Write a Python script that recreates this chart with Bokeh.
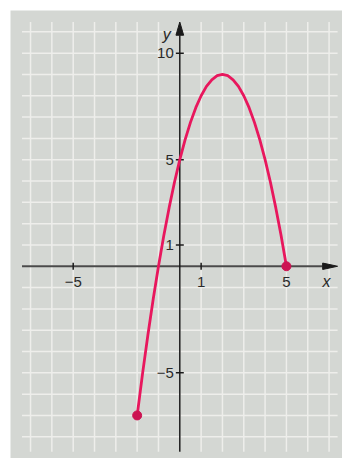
import math
from bokeh.plotting import figure
from bokeh.models import Range1d
from bokeh.core.properties import value
from bokeh.embed import file_html
from bokeh.resources import INLINE

# ---- data ----
curve_x = [-2, -1.75, -1.5, -1.25, -1, -0.75, -0.5, -0.25, 0, 0.25, 0.5, 0.75, 1,
           1.25, 1.5, 1.75, 2, 2.25, 2.5, 2.75, 3, 3.25, 3.5, 3.75, 4, 4.25, 4.5, 4.75, 5]
curve_y = [-7, -5.06, -3.25, -1.56, 0, 1.44, 2.75, 3.94, 5, 5.94, 6.75, 7.44, 8,
           8.44, 8.75, 8.94, 9, 8.94, 8.75, 8.44, 8, 7.44, 6.75, 5.94, 5, 3.94, 2.75, 1.44, 0]
end_x = [-2, 5]
end_y = [-7, 0]
xtick_vals = [-5, 1, 5]
xtick_labels = ["\u22125", "1", "5"]
ytick_vals = [10, 5, 1, -5]
ytick_labels = ["10", "5", "1", "\u22125"]
grid_x = list(range(-7, 8))
grid_y = list(range(-8, 12))

FONT = "Liberation Sans"
BG = "#d4d7d3"
GRID = "#eeeeeb"
CURVE = "#e8175d"
DOT = "#cc1452"
TXT = "#2a2a2a"

# extents of grid / axes (layout)
gx_min, gx_max = -7.4, 7.4
gy_min, gy_max = -8.7, 11.46

p = figure(width=342, height=458, output_backend="svg", toolbar_location=None,
           x_range=Range1d(-7.94, 7.63), y_range=Range1d(-9.02, 12.0),
           x_axis_type=None, y_axis_type=None,
           min_border_left=10, min_border_top=10, min_border_right=0, min_border_bottom=0,
           background_fill_color=BG, border_fill_color="white")
p.outline_line_color = None
p.xgrid.visible = False
p.ygrid.visible = False

# grid
p.segment(x0=grid_x, y0=[gy_min] * len(grid_x), x1=grid_x, y1=[gy_max] * len(grid_x),
          line_color=GRID, line_width=1.5)
p.segment(x0=[gx_min] * len(grid_y), y0=grid_y, x1=[gx_max] * len(grid_y), y1=grid_y,
          line_color=GRID, line_width=1.5)

# axes
head_len_x, head_hw_x = 0.7, 0.15
head_len_y, head_hw_y = 0.62, 0.18
p.segment(x0=[gx_min], y0=[0], x1=[gx_max - head_len_x], y1=[0], line_color="#4a4a4a", line_width=2)
p.patch(x=[gx_max - head_len_x, gx_max, gx_max - head_len_x], y=[head_hw_x, 0, -head_hw_x],
        fill_color="#1a1a1a", line_color="#1a1a1a")
p.segment(x0=[0], y0=[gy_min], x1=[0], y1=[gy_max - head_len_y], line_color="#1a1a1a", line_width=1.5)
p.patch(x=[-head_hw_y, 0, head_hw_y], y=[gy_max - head_len_y, gy_max, gy_max - head_len_y],
        fill_color="#1a1a1a", line_color="#1a1a1a")

# ticks
p.scatter(x=xtick_vals, y=[0] * len(xtick_vals), marker="dash", size=7, angle=math.pi / 2,
          line_color="#1a1a1a", line_width=1.5)
p.scatter(x=[0] * len(ytick_vals), y=ytick_vals, marker="dash", size=8,
          line_color="#1a1a1a", line_width=1.5)

# tick labels
p.text(x=xtick_vals, y=[0] * len(xtick_vals), text=xtick_labels, y_offset=16,
       text_align="center", text_baseline="middle", text_font=value(FONT),
       text_font_size="15px", text_color=TXT)
p.text(x=[0] * len(ytick_vals), y=ytick_vals, text=ytick_labels, x_offset=-6,
       text_align="right", text_baseline="middle", text_font=value(FONT),
       text_font_size="15px", text_color=TXT)

# axis names
p.text(x=[0], y=[gy_max], text=["y"], x_offset=-13, y_offset=12, text_align="center",
       text_baseline="middle", text_font=value(FONT), text_font_style="italic",
       text_font_size="16px", text_color=TXT)
p.text(x=[gx_max], y=[0], text=["x"], x_offset=-11, y_offset=15, text_align="center",
       text_baseline="middle", text_font=value(FONT), text_font_style="italic",
       text_font_size="16px", text_color=TXT)

# curve and endpoints
p.line(x=curve_x, y=curve_y, line_color=CURVE, line_width=2.8)
p.scatter(x=end_x, y=end_y, size=9, fill_color=DOT, line_color=DOT)

open("out.html", "w").write(file_html(p, INLINE))
